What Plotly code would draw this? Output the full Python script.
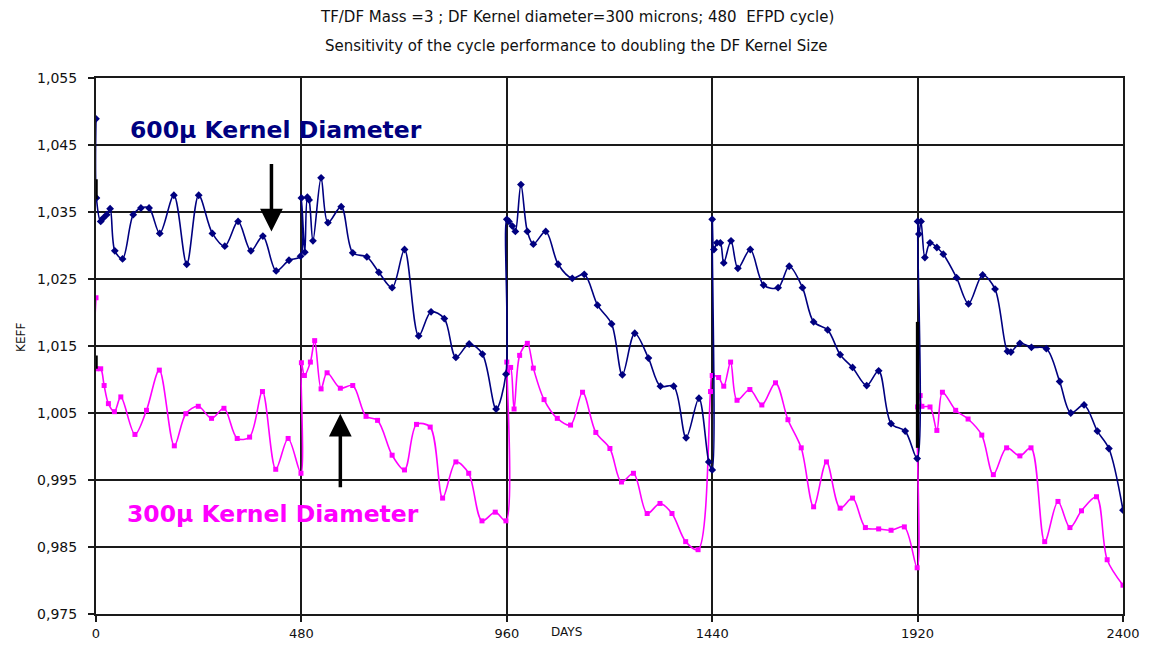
import plotly.graph_objects as go

# Effective multiplication factor over four 480-EFPD cycles
days_600 = [0, 1, 11, 17, 25, 33, 44, 62, 87, 105,
            124, 149, 182, 212, 240, 272, 301, 332, 362, 390,
            421, 451, 478, 480, 488, 494, 498, 507, 526, 542,
            573, 600, 633, 661, 692, 721, 754, 783, 814, 841,
            872, 903, 935, 958, 960, 965, 973, 980, 993, 1008,
            1022, 1051, 1080, 1113, 1141, 1172, 1205, 1230, 1259, 1291,
            1319, 1350, 1379, 1409, 1432, 1440, 1440, 1444, 1451, 1459,
            1467, 1484, 1500, 1529, 1560, 1594, 1620, 1651, 1677, 1710,
            1739, 1768, 1801, 1829, 1858, 1891, 1919, 1920, 1923, 1928,
            1937, 1949, 1965, 1980, 2011, 2039, 2072, 2101, 2130, 2138,
            2159, 2186, 2221, 2252, 2278, 2309, 2340, 2367, 2400]
keff_600 = [1.0489, 1.0371, 1.0336, 1.0341, 1.0346, 1.0355, 1.0292, 1.0280, 1.0346, 1.0356,
            1.0356, 1.0318, 1.0375, 1.0272, 1.0375, 1.0318, 1.0299, 1.0336, 1.0292, 1.0314,
            1.0262, 1.0278, 1.0284, 1.0371, 1.0290, 1.0372, 1.0368, 1.0307, 1.0401, 1.0334,
            1.0358, 1.0289, 1.0283, 1.0260, 1.0237, 1.0294, 1.0165, 1.0201, 1.0191, 1.0133,
            1.0153, 1.0138, 1.0056, 1.0108, 1.0339, 1.0336, 1.0329, 1.0321, 1.0391, 1.0321,
            1.0302, 1.0321, 1.0272, 1.0251, 1.0257, 1.0211, 1.0183, 1.0107, 1.0169, 1.0132,
            1.0090, 1.0090, 1.0013, 1.0072, 0.9977, 0.9965, 1.0339, 1.0294, 1.0304, 1.0304,
            1.0274, 1.0307, 1.0266, 1.0294, 1.0241, 1.0237, 1.0269, 1.0237, 1.0186, 1.0174,
            1.0137, 1.0118, 1.0091, 1.0113, 1.0034, 1.0023, 0.9982, 1.0336, 1.0317, 1.0336,
            1.0282, 1.0304, 1.0297, 1.0287, 1.0252, 1.0213, 1.0256, 1.0235, 1.0142, 1.0141,
            1.0154, 1.0148, 1.0146, 1.0097, 1.0050, 1.0062, 1.0023, 0.9997, 0.9905]

days_300 = [0, 1, 11, 19, 29, 43, 58, 91, 118, 148,
            183, 210, 239, 270, 299, 330, 359, 389, 420, 449,
            479, 480, 487, 501, 511, 526, 540, 571, 600, 631,
            658, 692, 721, 749, 781, 810, 841, 871, 902, 933,
            958, 960, 962, 969, 977, 990, 1008, 1022, 1047, 1078,
            1109, 1137, 1168, 1201, 1228, 1256, 1288, 1318, 1346, 1378,
            1407, 1436, 1440, 1455, 1467, 1483, 1498, 1528, 1556, 1588,
            1617, 1648, 1677, 1707, 1739, 1768, 1798, 1829, 1858, 1889,
            1919, 1920, 1926, 1930, 1949, 1965, 1978, 2009, 2038, 2070,
            2097, 2128, 2159, 2185, 2217, 2248, 2276, 2303, 2338, 2363,
            2400]
keff_300 = [1.0222, 1.0116, 1.0116, 1.0091, 1.0064, 1.0052, 1.0074, 1.0018, 1.0054, 1.0114,
            1.0001, 1.0049, 1.0060, 1.0042, 1.0057, 1.0012, 1.0014, 1.0082, 0.9966, 1.0012,
            0.9960, 1.0125, 1.0106, 1.0126, 1.0158, 1.0086, 1.0110, 1.0087, 1.0091, 1.0045,
            1.0039, 0.9987, 0.9965, 1.0033, 1.0029, 0.9923, 0.9977, 0.9960, 0.9889, 0.9902,
            0.9889, 1.0126, 1.0111, 1.0118, 1.0056, 1.0136, 1.0154, 1.0117, 1.0070, 1.0042,
            1.0032, 1.0081, 1.0021, 0.9997, 0.9947, 0.9960, 0.9900, 0.9915, 0.9900, 0.9858,
            0.9846, 1.0082, 1.0106, 1.0103, 1.0090, 1.0126, 1.0069, 1.0085, 1.0062, 1.0095,
            1.0040, 0.9998, 0.9910, 0.9977, 0.9908, 0.9923, 0.9879, 0.9877, 0.9875, 0.9880,
            0.9819, 1.0059, 1.0076, 1.0060, 1.0059, 1.0024, 1.0081, 1.0054, 1.0041, 1.0017,
            0.9958, 0.9998, 0.9986, 0.9998, 0.9858, 0.9918, 0.9879, 0.9904, 0.9925, 0.9831,
            0.9793]

# dense restart points at cycle starts
restart_days = [0, 0, None, 0, 0, None, 1920, 1920]
restart_keff = [1.0399, 1.0369, None, 1.0136, 1.0116, None, 1.0186, 0.9998]

y_ticks = [0.975, 0.985, 0.995, 1.005, 1.015, 1.025, 1.035, 1.045, 1.055]
y_tick_text = ["0,975", "0,985", "0,995", "1,005", "1,015", "1,025", "1,035", "1,045", "1,055"]
x_ticks = [0, 480, 960, 1440, 1920, 2400]
x_tick_text = ["0", "480", "960", "1440", "1920", "2400"]

NAVY = "#000080"
MAGENTA = "#FF00FF"
GRID = "#1a1a1a"
FONT = "DejaVu Sans"

fig = go.Figure()
fig.add_trace(go.Scatter(
    x=days_300, y=keff_300, mode="lines+markers",
    line=dict(color=MAGENTA, width=1.6, shape="spline", smoothing=0.9),
    marker=dict(symbol="square", size=5, color=MAGENTA),
    showlegend=False))
fig.add_trace(go.Scatter(
    x=days_600, y=keff_600, mode="lines+markers",
    line=dict(color=NAVY, width=1.6, shape="spline", smoothing=0.9),
    marker=dict(symbol="diamond", size=6, color=NAVY),
    showlegend=False))
fig.add_trace(go.Scatter(
    x=restart_days, y=restart_keff, mode="lines",
    line=dict(color="#000000", width=3.5),
    connectgaps=False, showlegend=False))

fig.update_layout(
    width=1152, height=653,
    margin=dict(l=96, r=27, t=78, b=37),
    paper_bgcolor="white", plot_bgcolor="white",
    font=dict(family=FONT, size=13, color="#111111"),
    xaxis=dict(range=[0, 2400], tickvals=x_ticks, ticktext=x_tick_text,
               showgrid=True, gridcolor=GRID, gridwidth=2,
               showline=True, linecolor=GRID, linewidth=2, mirror=True,
               ticks="outside", ticklen=6, tickcolor=GRID, tickwidth=2,
               tickfont=dict(family=FONT, size=13), zeroline=False),
    yaxis=dict(range=[0.975, 1.055], tickvals=y_ticks, ticktext=y_tick_text,
               showgrid=True, gridcolor=GRID, gridwidth=2,
               showline=True, linecolor=GRID, linewidth=2, mirror=True,
               ticks="outside", ticklen=6, tickcolor=GRID, tickwidth=2,
               ticklabelstandoff=8,
               tickfont=dict(family=FONT, size=14), zeroline=False),
)

annotations = [
    dict(text="TF/DF Mass =3 ; DF Kernel diameter=300 microns; 480  EFPD cycle)",
         xref="paper", yref="paper", x=0.468, y=1.0, yshift=61, showarrow=False,
         font=dict(family=FONT, size=15, color="#111111"), xanchor="center", yanchor="middle"),
    dict(text="Sensitivity of the cycle performance to doubling the DF Kernel Size",
         xref="paper", yref="paper", x=0.468, y=1.0, yshift=32, showarrow=False,
         font=dict(family=FONT, size=15, color="#111111"), xanchor="center", yanchor="middle"),
    dict(text="KEFF", xref="paper", yref="paper", x=0, xshift=-84, y=0.515,
         textangle=-90, showarrow=False, font=dict(family=FONT, size=12, color="#111111")),
    dict(text="DAYS", xref="x", yref="paper", x=1100, y=0, yshift=-27,
         showarrow=False, font=dict(family=FONT, size=12, color="#111111")),
    dict(text="<b>600\u00b5 Kernel Diameter</b>", xref="x", yref="y", x=74, y=1.0473,
         xanchor="left", yanchor="middle", showarrow=False,
         font=dict(family=FONT, size=23.5, color=NAVY)),
    dict(text="<b>300\u00b5 Kernel Diameter</b>", xref="x", yref="y", x=68, y=0.9900,
         xanchor="left", yanchor="middle", showarrow=False,
         font=dict(family=FONT, size=23.5, color=MAGENTA)),
    dict(text="", xref="x", yref="y", x=410, y=1.0321, ax=0, ay=-69,
         showarrow=True, arrowhead=2, arrowsize=1.3, arrowwidth=3.5, arrowcolor="#000000"),
    dict(text="", xref="x", yref="y", x=571, y=1.0049, ax=0, ay=75,
         showarrow=True, arrowhead=2, arrowsize=1.3, arrowwidth=3.5, arrowcolor="#000000"),
]
fig.update_layout(annotations=annotations)

fig.write_html("out.html")
